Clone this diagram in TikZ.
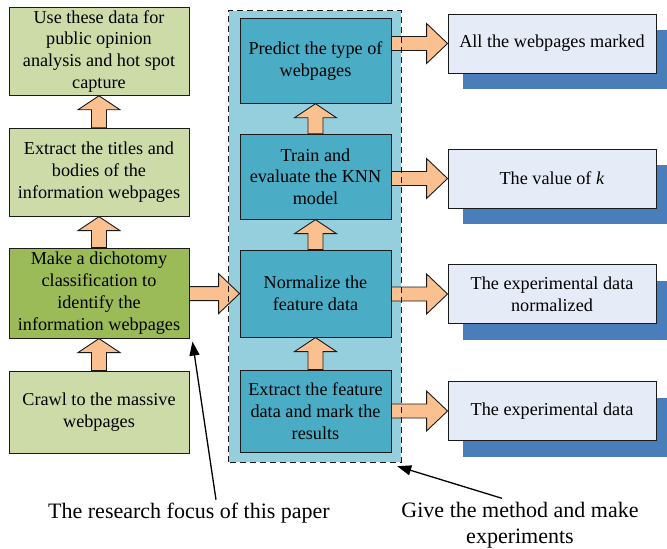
\documentclass[tikz,border=0pt]{standalone}
\usepackage{fontspec}
\setmainfont{Liberation Serif}
\usetikzlibrary{positioning,calc,shadows,arrows.meta}

\definecolor{lgreen}{HTML}{CDDBA9}
\definecolor{dgreen}{HTML}{9BBB59}
\definecolor{paleblue}{HTML}{95CFDE}
\definecolor{midblue}{HTML}{4BACC6}
\definecolor{outfill}{HTML}{E6ECF7}
\definecolor{shadowblue}{HTML}{4A7EBB}
\definecolor{peach}{HTML}{FAC090}
\definecolor{edge}{HTML}{1A1A1A}

\newcommand{\fatup}[2]{\draw[fat] ($(#1.north)+(-7.5,0)$) -- ($(#2.south)+(-7.5,14)$) -- ($(#2.south)+(-21,14)$) -- (#2.south) -- ($(#2.south)+(21,14)$) -- ($(#2.south)+(7.5,14)$) -- ($(#1.north)+(7.5,0)$) -- cycle;}
\newcommand{\fatright}[2]{\draw[fat] ($(#1.east |- #2.west)+(0,-7)$) -- ($(#2.west)+(-21,-7)$) -- ($(#2.west)+(-21,-20)$) -- (#2.west) -- ($(#2.west)+(-21,20)$) -- ($(#2.west)+(-21,7)$) -- ($(#1.east |- #2.west)+(0,7)$) -- cycle;}

\begin{document}
\begin{tikzpicture}[x=1pt,y=-1pt,
	every node/.style={font=\fontsize{18.2}{21.8}\selectfont, align=center, inner sep=1pt},
	box/.style={draw=edge, line width=0.9pt, minimum width=#1},
	stagebox/.style={box=180pt, fill=lgreen},
	methodbox/.style={box=151pt, fill=midblue},
	outbox/.style={box=208pt, minimum height=59pt, fill=outfill,
		drop shadow={shadow xshift=15pt, shadow yshift=-16pt, fill=shadowblue, opacity=1}},
	fat/.style={draw=edge, line width=0.9pt, fill=peach, line join=miter},
	framed/.style={draw=edge, line width=1.1pt, dash pattern=on 6pt off 4pt},
	note/.style={-{Triangle[length=14pt,width=10pt]}, line width=1.3pt},
	remark/.style={font=\fontsize{22}{26}\selectfont}]
	\useasboundingbox (0,0) rectangle (667,549);
	\node[fill=paleblue, minimum width=172pt, minimum height=451pt, inner sep=0pt] (frame) at (315,236.5) {};
	
	\node[stagebox, minimum height=82pt] (l4) at (99,412) {Crawl to the massive\\webpages};
	\node[stagebox, minimum height=90pt, fill=dgreen, above=32pt of l4] (l3) {Make a dichotomy\\classification to\\identify the\\information webpages};
	\node[stagebox, minimum height=88pt, above=31pt of l3] (l2) {Extract the titles and\\bodies of the\\information webpages};
	\node[stagebox, minimum height=88pt, above=32pt of l2] (l1) {Use these data for\\public opinion\\analysis and hot spot\\capture};
	
	\node[methodbox, minimum height=82pt] (m4) at (315.5,411) {Extract the feature\\data and mark the\\results};
	\node[methodbox, minimum height=87pt, above=32pt of m4] (m3) {Normalize the\\feature data};
	\node[methodbox, minimum height=85pt, above=30pt of m3] (m2) {Train and\\evaluate the KNN\\model};
	\node[methodbox, minimum height=85pt, above=30pt of m2] (m1) {Predict the type of\\webpages};
	
	\node[outbox] (r1) at (552,43.5) {All the webpages marked};
	\node[outbox] (r2) at (552,178.5) {The value of \textit{k}};
	\node[outbox] (r3) at (552,294) {The experimental data\\normalized};
	\node[outbox] (r4) at (552,411) {The experimental data};
	
	\fatup{l4}{l3}
	\fatup{l3}{l2}
	\fatup{l2}{l1}
	\fatup{m4}{m3}
	\fatup{m3}{m2}
	\fatup{m2}{m1}
	\fatright{l3}{m3}
	\fatright{m1}{r1}
	\fatright{m2}{r2}
	\fatright{m3}{r3}
	\fatright{m4}{r4}
	\draw[framed] (frame.south west) rectangle (frame.north east);
	
	\node[remark] (focus) at (189,513) {The research focus of this paper};
	\node[remark] (method) at (520,525.5) {Give the method and make\\experiments};
	\draw[note] ($(focus.north)+(27,-2)$) -- ($(l3.south east)+(3,3)$);
	\draw[note] ($(method.north)+(-18,-3)$) -- ($(frame.south east)+(-4,4)$);
\end{tikzpicture}
\end{document}
